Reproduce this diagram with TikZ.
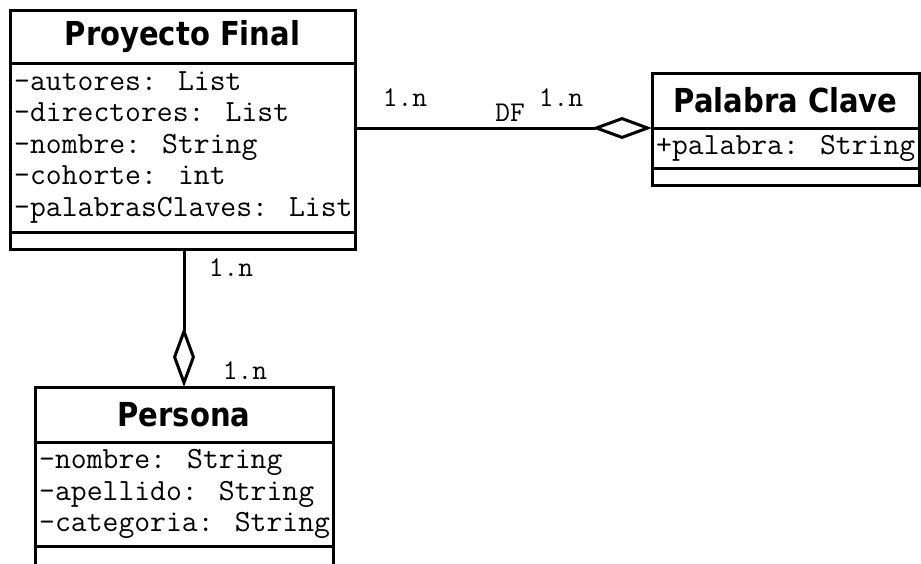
\documentclass[tikz,border=0pt]{standalone}
\usepackage{fontspec}
\usepackage{graphicx}
\usetikzlibrary{arrows.meta}
\newfontfamily\umltitle{DejaVu Sans}
\newcommand\classname[1]{\scalebox{0.88}[1]{\umltitle\bfseries\fontsize{33}{36}\selectfont #1}}
\begin{document}
\begin{tikzpicture}[x=1pt,y=-1pt,
  part/.style={draw, line width=3pt, anchor=north west, inner sep=0pt, outer sep=0pt},
  attrs/.style={anchor=west, inner sep=0pt, align=left,
    font=\ttfamily\fontsize{30.8}{31.5}\selectfont},
  mult/.style={inner sep=0pt, font=\ttfamily\fontsize{28.6}{30}\selectfont},
  agg/.style={line width=3pt, -{Diamond[open, length=60pt, width=22pt]}}]
\useasboundingbox (0,0) rectangle (921,563);
\clip (0,0) rectangle (921,563);

% Proyecto Final
\node[part, minimum width=345pt, minimum height=53pt] (pft) at (10,10) {\raisebox{-1.5pt}{\classname{Proyecto Final}}};
\node[part, minimum width=345pt, minimum height=169pt] (pfa) at (10,63) {};
\node[part, minimum width=345pt, minimum height=17pt] (pfo) at (10,232) {};
\node[attrs] (pfat) at ([xshift=4pt]pfa.west)
  {-autores: List\\-directores: List\\-nombre: String\\-cohorte: int\\-palabrasClaves: List};

% Palabra Clave
\node[part, minimum width=267pt, minimum height=55pt] (pct) at (652,73) {\classname{Palabra Clave}};
\node[part, minimum width=267pt, minimum height=40pt] (pca) at (652,128) {};
\node[part, minimum width=267pt, minimum height=17pt] (pco) at (652,168) {};
\node[attrs] (pcat) at ([xshift=4pt]pca.west) {+palabra: String};

% Persona
\node[part, minimum width=298pt, minimum height=55pt] (pet) at (35,387) {\classname{Persona}};
\node[part, minimum width=298pt, minimum height=104pt] (pea) at (35,442) {};
\node[part, minimum width=298pt, minimum height=30pt] (peo) at (35,546) {};
\node[attrs] (peat) at ([xshift=4pt]pea.west)
  {-nombre: String\\-apellido: String\\-categoria: String};

% aggregations
\draw[agg] (pfa.east |- pct.south) -- (pct.south west);
\draw[agg] (pfo.south -| pet.north) -- (pet.north);

% multiplicities
\node[mult] (m1) at (405,98) {1.n};
\node[mult] (df) at (510,113) {DF};
\node[mult] (m2) at (561,98) {1.n};
\node[mult] (m3) at (231,268) {1.n};
\node[mult] (m4) at (245,371) {1.n};
\end{tikzpicture}
\end{document}
